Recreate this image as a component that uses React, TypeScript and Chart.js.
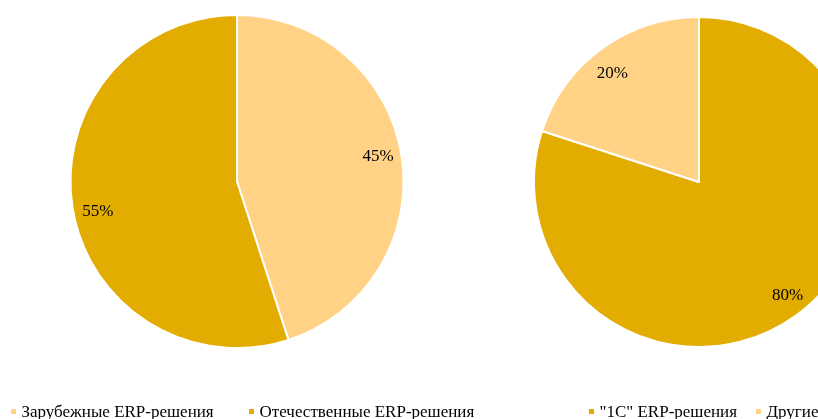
import React, { useEffect, useRef } from "react";
import { Chart, registerables } from "chart.js";

Chart.register(...registerables);

const leftLabels = ["Зарубежные ERP-решения", "Отечественные ERP-решения"];
const leftValues = [45, 55];
const rightLabels = ["\"1C\" ERP-решения", "Другие"];
const rightValues = [80, 20];

const DARK = "#E2AC00";
const LIGHT = "#FFD285";
const leftColors = [LIGHT, DARK];
const rightColors = [DARK, LIGHT];

const FONT = "'Liberation Serif', 'Times New Roman', serif";

const labelPlugin = {
  id: "pctLabels",
  afterDatasetsDraw(chart: any) {
    const ctx = chart.ctx;
    const meta = chart.getDatasetMeta(0);
    const values = chart.data.datasets[0].data;
    ctx.save();
    ctx.font = `17px ${FONT}`;
    ctx.fillStyle = "#000";
    ctx.textAlign = "center";
    ctx.textBaseline = "middle";
    meta.data.forEach((arc: any, i: number) => {
      const p = arc.getProps(["x", "y", "startAngle", "endAngle", "outerRadius"], true);
      const mid = (p.startAngle + p.endAngle) / 2 - (2.2 * Math.PI) / 180;
      const r = p.outerRadius * 0.858;
      ctx.fillText(values[i] + "%", p.x + Math.cos(mid) * r + 1, p.y + Math.sin(mid) * r + 2.5);
    });
    ctx.restore();
  },
};

const legendPlugin = {
  id: "fixedLegend",
  afterDraw(chart: any, _args: any, opts: any) {
    const ctx = chart.ctx;
    const labels = chart.data.labels;
    const colors = chart.data.datasets[0].backgroundColor;
    ctx.save();
    ctx.font = `17px ${FONT}`;
    ctx.textBaseline = "alphabetic";
    ctx.textAlign = "left";
    (opts.xs || []).forEach((x: number, i: number) => {
      ctx.fillStyle = colors[i];
      ctx.fillRect(x, 409, 5, 5);
      ctx.fillStyle = "#000";
      ctx.fillText(labels[i], x + 10.5, opts.y);
    });
    ctx.restore();
  },
};

function PieBox(props: {
  labels: string[];
  values: number[];
  colors: string[];
  left: number;
  width: number;
  padding: any;
  legendXs: number[];
}) {
  const ref = useRef<HTMLCanvasElement | null>(null);
  useEffect(() => {
    const chart = new Chart(ref.current as HTMLCanvasElement, {
      type: "pie",
      data: {
        labels: props.labels,
        datasets: [
          {
            data: props.values,
            backgroundColor: props.colors,
            borderColor: "#ffffff",
            borderWidth: 2,
          },
        ],
      },
      options: {
        animation: false,
        responsive: false,
        maintainAspectRatio: false,
        layout: { padding: props.padding },
        plugins: {
          legend: { display: false },
          tooltip: { enabled: false },
          fixedLegend: { xs: props.legendXs, y: 417 },
        } as any,
      },
      plugins: [labelPlugin, legendPlugin],
    });
    return () => chart.destroy();
  }, []);
  return (
    <canvas
      ref={ref}
      width={props.width}
      height={419}
      style={{ position: "absolute", left: props.left, top: 0, width: props.width, height: 419 }}
    />
  );
}

export default function App() {
  return (
    <div
      style={{
        position: "fixed",
        left: 0,
        top: 0,
        width: 818,
        height: 419,
        overflow: "hidden",
        background: "#fff",
      }}
    >
      <PieBox
        labels={leftLabels}
        values={leftValues}
        colors={leftColors}
        left={0}
        width={478}
        padding={{ top: 14, bottom: 70, left: 0, right: 4 }}
        legendXs={[11, 249]}
      />
      <PieBox
        labels={rightLabels}
        values={rightValues}
        colors={rightColors}
        left={480}
        width={440}
        padding={{ top: 16, bottom: 71, left: 0, right: 2 }}
        legendXs={[109, 276]}
      />
    </div>
  );
}
